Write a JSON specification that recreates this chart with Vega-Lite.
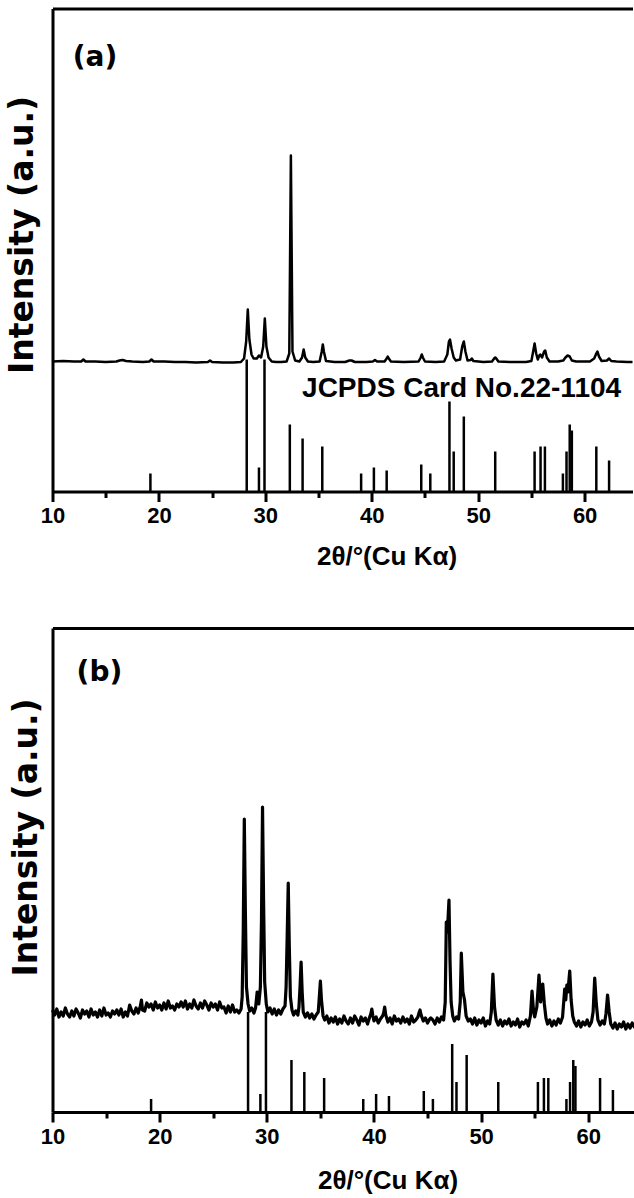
{
  "$schema": "https://vega.github.io/schema/vega-lite/v6.json",
  "background": "white",
  "padding": {"left": 5.5, "top": 8.5, "right": 0, "bottom": 0},
  "config": {
    "view": {"stroke": null},
    "axis": {"domainColor": "black", "domainWidth": 3, "tickColor": "black", "tickWidth": 3, "labelColor": "black", "titleColor": "black", "grid": false, "labelFont": "Liberation Sans", "labelFontWeight": "bold", "titleFont": "Liberation Sans", "titleFontWeight": "bold"}
  },
  "datasets": {
    "sticksA": [
      {"pos": 19.2, "h": 18}, {"pos": 28.25, "h": 132}, {"pos": 29.4, "h": 24}, {"pos": 29.92, "h": 132},
      {"pos": 32.3, "h": 67}, {"pos": 33.5, "h": 53}, {"pos": 35.35, "h": 45}, {"pos": 39.0, "h": 18},
      {"pos": 40.2, "h": 24}, {"pos": 41.4, "h": 21}, {"pos": 44.65, "h": 27}, {"pos": 45.5, "h": 18},
      {"pos": 47.3, "h": 90}, {"pos": 47.7, "h": 40}, {"pos": 48.65, "h": 75}, {"pos": 51.6, "h": 40},
      {"pos": 55.3, "h": 40}, {"pos": 55.86, "h": 45}, {"pos": 56.27, "h": 45}, {"pos": 57.96, "h": 18},
      {"pos": 58.3, "h": 40}, {"pos": 58.6, "h": 67}, {"pos": 58.8, "h": 61}, {"pos": 61.1, "h": 45},
      {"pos": 62.3, "h": 31}
    ],
    "sticksB": [
      {"pos": 19.2, "h": 13}, {"pos": 28.25, "h": 100}, {"pos": 29.4, "h": 18}, {"pos": 29.92, "h": 100},
      {"pos": 32.3, "h": 52}, {"pos": 33.5, "h": 40}, {"pos": 35.35, "h": 34}, {"pos": 39.0, "h": 13},
      {"pos": 40.2, "h": 18}, {"pos": 41.4, "h": 16}, {"pos": 44.65, "h": 21}, {"pos": 45.5, "h": 13},
      {"pos": 47.3, "h": 68}, {"pos": 47.7, "h": 30}, {"pos": 48.65, "h": 57}, {"pos": 51.6, "h": 30},
      {"pos": 55.3, "h": 30}, {"pos": 55.86, "h": 34}, {"pos": 56.27, "h": 34}, {"pos": 57.96, "h": 13},
      {"pos": 58.3, "h": 30}, {"pos": 58.6, "h": 52}, {"pos": 58.8, "h": 46}, {"pos": 61.1, "h": 34},
      {"pos": 62.3, "h": 22}
    ],
    "patternA": [
      {"x": 10.0, "y": 130}, {"x": 11.0, "y": 130.5}, {"x": 12.0, "y": 130}, {"x": 12.7, "y": 130}, {"x": 12.9, "y": 132}, {"x": 13.1, "y": 130},
      {"x": 14.0, "y": 130}, {"x": 15.0, "y": 129.5}, {"x": 16.0, "y": 130}, {"x": 16.3, "y": 131}, {"x": 16.6, "y": 131.5}, {"x": 16.9, "y": 130.5},
      {"x": 17.5, "y": 130}, {"x": 18.5, "y": 129.5}, {"x": 19.1, "y": 130}, {"x": 19.3, "y": 132}, {"x": 19.5, "y": 130}, {"x": 20.5, "y": 130},
      {"x": 21.5, "y": 129.5}, {"x": 22.5, "y": 129.5}, {"x": 23.5, "y": 129}, {"x": 24.6, "y": 129.5}, {"x": 24.8, "y": 131}, {"x": 25.0, "y": 129.5},
      {"x": 26.0, "y": 129}, {"x": 27.0, "y": 129}, {"x": 27.7, "y": 129.5}, {"x": 28.0, "y": 133}, {"x": 28.2, "y": 150}, {"x": 28.35, "y": 182},
      {"x": 28.5, "y": 152}, {"x": 28.7, "y": 137}, {"x": 28.9, "y": 133}, {"x": 29.2, "y": 133}, {"x": 29.4, "y": 136}, {"x": 29.6, "y": 134},
      {"x": 29.8, "y": 145}, {"x": 29.95, "y": 173}, {"x": 30.1, "y": 145}, {"x": 30.3, "y": 134}, {"x": 30.6, "y": 130}, {"x": 31.0, "y": 129.5},
      {"x": 31.5, "y": 129.5}, {"x": 32.0, "y": 130}, {"x": 32.25, "y": 138}, {"x": 32.4, "y": 336}, {"x": 32.55, "y": 140}, {"x": 32.8, "y": 131},
      {"x": 33.2, "y": 130}, {"x": 33.45, "y": 134}, {"x": 33.6, "y": 142}, {"x": 33.75, "y": 134}, {"x": 34.0, "y": 130}, {"x": 34.5, "y": 129.5},
      {"x": 35.1, "y": 130}, {"x": 35.3, "y": 140}, {"x": 35.4, "y": 147}, {"x": 35.5, "y": 140}, {"x": 35.7, "y": 130.5}, {"x": 36.5, "y": 129.5},
      {"x": 37.5, "y": 129.5}, {"x": 37.9, "y": 131}, {"x": 38.1, "y": 131}, {"x": 38.4, "y": 129.5}, {"x": 39.5, "y": 129.5}, {"x": 40.1, "y": 130},
      {"x": 40.3, "y": 131.5}, {"x": 40.5, "y": 130}, {"x": 41.2, "y": 130}, {"x": 41.4, "y": 133}, {"x": 41.5, "y": 135}, {"x": 41.6, "y": 133},
      {"x": 41.8, "y": 130}, {"x": 43.0, "y": 129.5}, {"x": 44.4, "y": 130}, {"x": 44.6, "y": 134}, {"x": 44.7, "y": 137}, {"x": 44.8, "y": 134},
      {"x": 45.0, "y": 130}, {"x": 46.0, "y": 129.5}, {"x": 46.8, "y": 130}, {"x": 47.1, "y": 137}, {"x": 47.25, "y": 150}, {"x": 47.35, "y": 152},
      {"x": 47.5, "y": 143}, {"x": 47.7, "y": 134}, {"x": 47.9, "y": 131}, {"x": 48.3, "y": 132}, {"x": 48.5, "y": 145}, {"x": 48.65, "y": 150},
      {"x": 48.8, "y": 140}, {"x": 49.0, "y": 131}, {"x": 49.3, "y": 131.5}, {"x": 49.4, "y": 133}, {"x": 49.55, "y": 130.5}, {"x": 50.5, "y": 129.5},
      {"x": 51.3, "y": 130}, {"x": 51.5, "y": 133}, {"x": 51.6, "y": 134}, {"x": 51.7, "y": 133}, {"x": 51.9, "y": 130}, {"x": 53.0, "y": 129.5},
      {"x": 54.5, "y": 129.5}, {"x": 55.0, "y": 130.5}, {"x": 55.2, "y": 142}, {"x": 55.3, "y": 148}, {"x": 55.45, "y": 138}, {"x": 55.6, "y": 132},
      {"x": 55.75, "y": 136}, {"x": 55.85, "y": 137}, {"x": 56.0, "y": 134}, {"x": 56.2, "y": 140}, {"x": 56.3, "y": 141}, {"x": 56.45, "y": 134},
      {"x": 56.7, "y": 130}, {"x": 57.5, "y": 130}, {"x": 58.0, "y": 131}, {"x": 58.2, "y": 134}, {"x": 58.4, "y": 136}, {"x": 58.6, "y": 135},
      {"x": 58.8, "y": 131}, {"x": 59.2, "y": 130}, {"x": 60.5, "y": 130}, {"x": 60.9, "y": 133}, {"x": 61.1, "y": 138}, {"x": 61.2, "y": 140},
      {"x": 61.35, "y": 135}, {"x": 61.6, "y": 130.5}, {"x": 62.1, "y": 131}, {"x": 62.3, "y": 133}, {"x": 62.5, "y": 130.5}, {"x": 63.0, "y": 130},
      {"x": 64.0, "y": 129.5}, {"x": 64.5, "y": 129.5}
    ],
    "patternB": [
      {"x": 10.0, "y": 102}, {"x": 10.2, "y": 97}, {"x": 10.4, "y": 103}, {"x": 10.6, "y": 95}, {"x": 10.8, "y": 100}, {"x": 11.0, "y": 96},
      {"x": 11.2, "y": 104}, {"x": 11.4, "y": 98}, {"x": 11.6, "y": 95}, {"x": 11.8, "y": 101}, {"x": 12.0, "y": 96}, {"x": 12.2, "y": 103},
      {"x": 12.4, "y": 99}, {"x": 12.6, "y": 94}, {"x": 12.8, "y": 102}, {"x": 13.0, "y": 98}, {"x": 13.2, "y": 101}, {"x": 13.4, "y": 95},
      {"x": 13.6, "y": 103}, {"x": 13.8, "y": 97}, {"x": 14.0, "y": 100}, {"x": 14.2, "y": 95}, {"x": 14.4, "y": 102}, {"x": 14.6, "y": 96},
      {"x": 14.8, "y": 104}, {"x": 15.0, "y": 97}, {"x": 15.2, "y": 99}, {"x": 15.4, "y": 95}, {"x": 15.6, "y": 101}, {"x": 15.8, "y": 98},
      {"x": 16.0, "y": 102}, {"x": 16.2, "y": 97}, {"x": 16.4, "y": 103}, {"x": 16.6, "y": 95}, {"x": 16.8, "y": 100}, {"x": 17.0, "y": 96},
      {"x": 17.2, "y": 107}, {"x": 17.4, "y": 101}, {"x": 17.6, "y": 98}, {"x": 17.8, "y": 104}, {"x": 18.0, "y": 99}, {"x": 18.2, "y": 106},
      {"x": 18.3, "y": 112}, {"x": 18.4, "y": 102}, {"x": 18.6, "y": 101}, {"x": 18.8, "y": 109}, {"x": 19.0, "y": 105}, {"x": 19.2, "y": 108},
      {"x": 19.4, "y": 102}, {"x": 19.6, "y": 110}, {"x": 19.8, "y": 104}, {"x": 20.0, "y": 107}, {"x": 20.2, "y": 102}, {"x": 20.4, "y": 109},
      {"x": 20.6, "y": 103}, {"x": 20.8, "y": 111}, {"x": 21.0, "y": 104}, {"x": 21.2, "y": 106}, {"x": 21.4, "y": 102}, {"x": 21.6, "y": 108},
      {"x": 21.8, "y": 105}, {"x": 22.0, "y": 110}, {"x": 22.2, "y": 105}, {"x": 22.4, "y": 111}, {"x": 22.6, "y": 103}, {"x": 22.8, "y": 108},
      {"x": 23.0, "y": 104}, {"x": 23.2, "y": 112}, {"x": 23.4, "y": 106}, {"x": 23.6, "y": 103}, {"x": 23.8, "y": 109}, {"x": 24.0, "y": 104},
      {"x": 24.2, "y": 111}, {"x": 24.4, "y": 107}, {"x": 24.6, "y": 102}, {"x": 24.8, "y": 109}, {"x": 25.0, "y": 105}, {"x": 25.2, "y": 108},
      {"x": 25.4, "y": 102}, {"x": 25.6, "y": 110}, {"x": 25.8, "y": 104}, {"x": 26.0, "y": 105}, {"x": 26.2, "y": 99}, {"x": 26.4, "y": 106},
      {"x": 26.6, "y": 100}, {"x": 26.8, "y": 107}, {"x": 27.0, "y": 100}, {"x": 27.2, "y": 102}, {"x": 27.4, "y": 99}, {"x": 27.6, "y": 103},
      {"x": 27.7, "y": 115}, {"x": 27.8, "y": 180}, {"x": 27.9, "y": 293}, {"x": 28.0, "y": 200}, {"x": 28.1, "y": 125}, {"x": 28.25, "y": 108},
      {"x": 28.4, "y": 101}, {"x": 28.6, "y": 104}, {"x": 28.8, "y": 99}, {"x": 28.95, "y": 104}, {"x": 29.1, "y": 120}, {"x": 29.25, "y": 108},
      {"x": 29.4, "y": 125}, {"x": 29.5, "y": 190}, {"x": 29.6, "y": 305}, {"x": 29.7, "y": 210}, {"x": 29.8, "y": 130}, {"x": 29.95, "y": 108},
      {"x": 30.1, "y": 100}, {"x": 30.3, "y": 104}, {"x": 30.5, "y": 98}, {"x": 30.7, "y": 103}, {"x": 30.9, "y": 97}, {"x": 31.1, "y": 102},
      {"x": 31.3, "y": 98}, {"x": 31.5, "y": 103}, {"x": 31.7, "y": 106}, {"x": 31.8, "y": 125}, {"x": 31.9, "y": 175}, {"x": 32.0, "y": 229},
      {"x": 32.1, "y": 165}, {"x": 32.2, "y": 115}, {"x": 32.35, "y": 102}, {"x": 32.5, "y": 97}, {"x": 32.7, "y": 101}, {"x": 32.9, "y": 97},
      {"x": 33.0, "y": 105}, {"x": 33.1, "y": 125}, {"x": 33.2, "y": 150}, {"x": 33.3, "y": 120}, {"x": 33.4, "y": 100}, {"x": 33.6, "y": 95},
      {"x": 33.8, "y": 99}, {"x": 34.0, "y": 94}, {"x": 34.2, "y": 98}, {"x": 34.4, "y": 93}, {"x": 34.6, "y": 97}, {"x": 34.8, "y": 100},
      {"x": 34.9, "y": 115}, {"x": 35.0, "y": 131}, {"x": 35.1, "y": 112}, {"x": 35.25, "y": 96}, {"x": 35.4, "y": 92}, {"x": 35.6, "y": 96},
      {"x": 35.8, "y": 89}, {"x": 36.0, "y": 94}, {"x": 36.2, "y": 90}, {"x": 36.4, "y": 95}, {"x": 36.6, "y": 88}, {"x": 36.8, "y": 93},
      {"x": 37.0, "y": 89}, {"x": 37.2, "y": 96}, {"x": 37.4, "y": 91}, {"x": 37.6, "y": 88}, {"x": 37.8, "y": 94}, {"x": 38.0, "y": 89},
      {"x": 38.2, "y": 96}, {"x": 38.4, "y": 92}, {"x": 38.6, "y": 87}, {"x": 38.8, "y": 95}, {"x": 39.0, "y": 91}, {"x": 39.2, "y": 94},
      {"x": 39.4, "y": 88}, {"x": 39.6, "y": 95}, {"x": 39.7, "y": 98}, {"x": 39.8, "y": 103}, {"x": 39.9, "y": 96}, {"x": 40.0, "y": 91},
      {"x": 40.2, "y": 95}, {"x": 40.4, "y": 89}, {"x": 40.6, "y": 93}, {"x": 40.8, "y": 96}, {"x": 40.9, "y": 99}, {"x": 41.0, "y": 105},
      {"x": 41.1, "y": 97}, {"x": 41.3, "y": 90}, {"x": 41.5, "y": 94}, {"x": 41.7, "y": 88}, {"x": 41.9, "y": 96}, {"x": 42.1, "y": 91},
      {"x": 42.3, "y": 93}, {"x": 42.5, "y": 89}, {"x": 42.7, "y": 95}, {"x": 42.9, "y": 90}, {"x": 43.1, "y": 93}, {"x": 43.3, "y": 88},
      {"x": 43.5, "y": 96}, {"x": 43.7, "y": 90}, {"x": 43.9, "y": 92}, {"x": 44.1, "y": 95}, {"x": 44.2, "y": 99}, {"x": 44.3, "y": 102},
      {"x": 44.4, "y": 97}, {"x": 44.6, "y": 91}, {"x": 44.8, "y": 94}, {"x": 45.0, "y": 89}, {"x": 45.2, "y": 93}, {"x": 45.3, "y": 94},
      {"x": 45.5, "y": 92}, {"x": 45.7, "y": 88}, {"x": 45.9, "y": 94}, {"x": 46.1, "y": 90}, {"x": 46.3, "y": 95}, {"x": 46.5, "y": 92},
      {"x": 46.65, "y": 110}, {"x": 46.75, "y": 190}, {"x": 46.85, "y": 180}, {"x": 47.0, "y": 212}, {"x": 47.1, "y": 150}, {"x": 47.2, "y": 110},
      {"x": 47.35, "y": 96}, {"x": 47.5, "y": 91}, {"x": 47.7, "y": 95}, {"x": 47.9, "y": 93}, {"x": 48.05, "y": 110}, {"x": 48.15, "y": 159},
      {"x": 48.3, "y": 120}, {"x": 48.45, "y": 112}, {"x": 48.6, "y": 96}, {"x": 48.8, "y": 91}, {"x": 49.0, "y": 93}, {"x": 49.2, "y": 88},
      {"x": 49.4, "y": 94}, {"x": 49.6, "y": 87}, {"x": 49.8, "y": 92}, {"x": 50.0, "y": 89}, {"x": 50.2, "y": 94}, {"x": 50.4, "y": 86},
      {"x": 50.6, "y": 91}, {"x": 50.8, "y": 88}, {"x": 50.95, "y": 100}, {"x": 51.1, "y": 138}, {"x": 51.25, "y": 105}, {"x": 51.4, "y": 92},
      {"x": 51.6, "y": 87}, {"x": 51.8, "y": 92}, {"x": 52.0, "y": 86}, {"x": 52.2, "y": 91}, {"x": 52.4, "y": 88}, {"x": 52.6, "y": 93},
      {"x": 52.8, "y": 86}, {"x": 53.0, "y": 90}, {"x": 53.2, "y": 87}, {"x": 53.4, "y": 93}, {"x": 53.6, "y": 85}, {"x": 53.8, "y": 90},
      {"x": 54.0, "y": 88}, {"x": 54.2, "y": 92}, {"x": 54.4, "y": 86}, {"x": 54.6, "y": 96}, {"x": 54.75, "y": 121}, {"x": 54.9, "y": 100},
      {"x": 55.0, "y": 95}, {"x": 55.2, "y": 105}, {"x": 55.4, "y": 137}, {"x": 55.55, "y": 110}, {"x": 55.75, "y": 128}, {"x": 55.9, "y": 108},
      {"x": 56.05, "y": 94}, {"x": 56.2, "y": 88}, {"x": 56.4, "y": 92}, {"x": 56.6, "y": 86}, {"x": 56.8, "y": 91}, {"x": 57.0, "y": 87},
      {"x": 57.2, "y": 93}, {"x": 57.4, "y": 89}, {"x": 57.6, "y": 95}, {"x": 57.8, "y": 123}, {"x": 57.9, "y": 112}, {"x": 58.0, "y": 127},
      {"x": 58.1, "y": 120}, {"x": 58.27, "y": 141}, {"x": 58.4, "y": 112}, {"x": 58.55, "y": 96}, {"x": 58.7, "y": 90}, {"x": 58.9, "y": 86},
      {"x": 59.1, "y": 91}, {"x": 59.3, "y": 85}, {"x": 59.5, "y": 90}, {"x": 59.7, "y": 87}, {"x": 59.9, "y": 92}, {"x": 60.1, "y": 86},
      {"x": 60.3, "y": 90}, {"x": 60.45, "y": 100}, {"x": 60.6, "y": 134}, {"x": 60.75, "y": 108}, {"x": 60.9, "y": 92}, {"x": 61.1, "y": 87},
      {"x": 61.3, "y": 91}, {"x": 61.5, "y": 88}, {"x": 61.65, "y": 98}, {"x": 61.8, "y": 117}, {"x": 61.95, "y": 100}, {"x": 62.1, "y": 88},
      {"x": 62.3, "y": 84}, {"x": 62.5, "y": 89}, {"x": 62.7, "y": 83}, {"x": 62.9, "y": 88}, {"x": 63.1, "y": 85}, {"x": 63.3, "y": 90},
      {"x": 63.5, "y": 83}, {"x": 63.7, "y": 88}, {"x": 63.9, "y": 84}, {"x": 64.1, "y": 89}, {"x": 64.3, "y": 85}, {"x": 64.5, "y": 88}
    ]
  },
  "columns": 1,
  "align": "none",
  "bounds": "full",
  "spacing": 58.5,
  "concat": [
    {
      "width": 580,
      "height": 483,
      "resolve": {"axis": {"x": "independent", "y": "independent"}},
      "layer": [
        {
          "data": {"name": "sticksA"},
          "mark": {"type": "rule", "color": "black", "strokeWidth": 2.5},
          "encoding": {
            "x": {"field": "pos", "type": "quantitative", "scale": {"domain": [10, 64.5], "nice": false, "zero": false},
              "axis": {"orient": "bottom", "values": [10, 20, 30, 40, 50, 60], "tickSize": 10, "labelFontSize": 22, "labelPadding": 4, "labelFlush": false, "labelOverlap": false, "title": "2θ/°(Cu Kα)", "titleFontSize": 26, "titleX": 334, "titleY": 65, "titleBaseline": "middle"}},
            "y": {"field": "h", "type": "quantitative", "scale": {"domain": [0, 483], "nice": false, "zero": false}, "axis": null},
            "y2": {"datum": 0}
          }
        },
        {
          "data": {"name": "patternA"},
          "mark": {"type": "line", "color": "black", "strokeWidth": 2.5, "strokeJoin": "round"},
          "encoding": {
            "x": {"field": "x", "type": "quantitative", "scale": {"domain": [10, 64.5], "nice": false, "zero": false},
              "axis": {"orient": "top", "ticks": false, "labels": false, "title": null}},
            "y": {"field": "y", "type": "quantitative", "scale": {"domain": [0, 483], "nice": false, "zero": false},
              "axis": {"orient": "left", "ticks": false, "labels": false, "title": "Intensity (a.u.)", "titleFont": "DejaVu Sans", "titleFontSize": 33, "titleX": -30, "titleY": 226, "titleBaseline": "middle", "titleAngle": 270}}
          }
        },
        {
          "data": {"values": [{"x": 11.9, "y": 434, "label": "(a)"}]},
          "mark": {"type": "text", "align": "left", "baseline": "middle", "color": "black", "font": "DejaVu Sans", "fontWeight": "bold", "fontSize": 28},
          "encoding": {
            "x": {"field": "x", "type": "quantitative", "scale": {"domain": [10, 64.5], "nice": false, "zero": false},
              "axis": {"orient": "bottom", "values": [15, 25, 35, 45, 55], "tickSize": 6, "labels": false, "domain": false, "title": null}},
            "y": {"field": "y", "type": "quantitative", "scale": {"domain": [0, 483], "nice": false, "zero": false}, "axis": null},
            "text": {"field": "label"}
          }
        },
        {
          "data": {"values": [{"x": 33.45, "y": 103, "label": "JCPDS Card No.22-1104"}]},
          "mark": {"type": "text", "align": "left", "baseline": "middle", "color": "black", "font": "Liberation Sans", "fontWeight": "bold", "fontSize": 28},
          "encoding": {
            "x": {"field": "x", "type": "quantitative", "scale": {"domain": [10, 64.5], "nice": false, "zero": false}, "axis": null},
            "y": {"field": "y", "type": "quantitative", "scale": {"domain": [0, 483], "nice": false, "zero": false}, "axis": null},
            "text": {"field": "label"}
          }
        }
      ]
    },
    {
      "width": 584,
      "height": 484,
      "resolve": {"axis": {"x": "independent", "y": "independent"}},
      "layer": [
        {
          "data": {"name": "sticksB"},
          "mark": {"type": "rule", "color": "black", "strokeWidth": 2.5},
          "encoding": {
            "x": {"field": "pos", "type": "quantitative", "scale": {"domain": [10, 64.5], "nice": false, "zero": false},
              "axis": {"orient": "bottom", "values": [10, 20, 30, 40, 50, 60], "tickSize": 10, "labelFontSize": 22, "labelPadding": 4, "labelFlush": false, "labelOverlap": false, "title": "2θ/°(Cu Kα)", "titleFontSize": 26, "titleX": 335, "titleY": 68, "titleBaseline": "middle"}},
            "y": {"field": "h", "type": "quantitative", "scale": {"domain": [0, 484], "nice": false, "zero": false}, "axis": null},
            "y2": {"datum": 0}
          }
        },
        {
          "data": {"name": "patternB"},
          "mark": {"type": "line", "color": "black", "strokeWidth": 3.2, "strokeJoin": "round"},
          "encoding": {
            "x": {"field": "x", "type": "quantitative", "scale": {"domain": [10, 64.5], "nice": false, "zero": false},
              "axis": {"orient": "top", "ticks": false, "labels": false, "title": null}},
            "y": {"field": "y", "type": "quantitative", "scale": {"domain": [0, 484], "nice": false, "zero": false},
              "axis": {"orient": "left", "ticks": false, "labels": false, "title": "Intensity (a.u.)", "titleFont": "DejaVu Sans", "titleFontSize": 33, "titleX": -26, "titleY": 209, "titleBaseline": "middle", "titleAngle": 270}}
          }
        },
        {
          "data": {"values": [{"x": 12.25, "y": 439, "label": "(b)"}]},
          "mark": {"type": "text", "align": "left", "baseline": "middle", "color": "black", "font": "DejaVu Sans", "fontWeight": "bold", "fontSize": 28},
          "encoding": {
            "x": {"field": "x", "type": "quantitative", "scale": {"domain": [10, 64.5], "nice": false, "zero": false},
              "axis": {"orient": "bottom", "values": [15, 25, 35, 45, 55], "tickSize": 6, "labels": false, "domain": false, "title": null}},
            "y": {"field": "y", "type": "quantitative", "scale": {"domain": [0, 484], "nice": false, "zero": false}, "axis": null},
            "text": {"field": "label"}
          }
        }
      ]
    }
  ]
}
